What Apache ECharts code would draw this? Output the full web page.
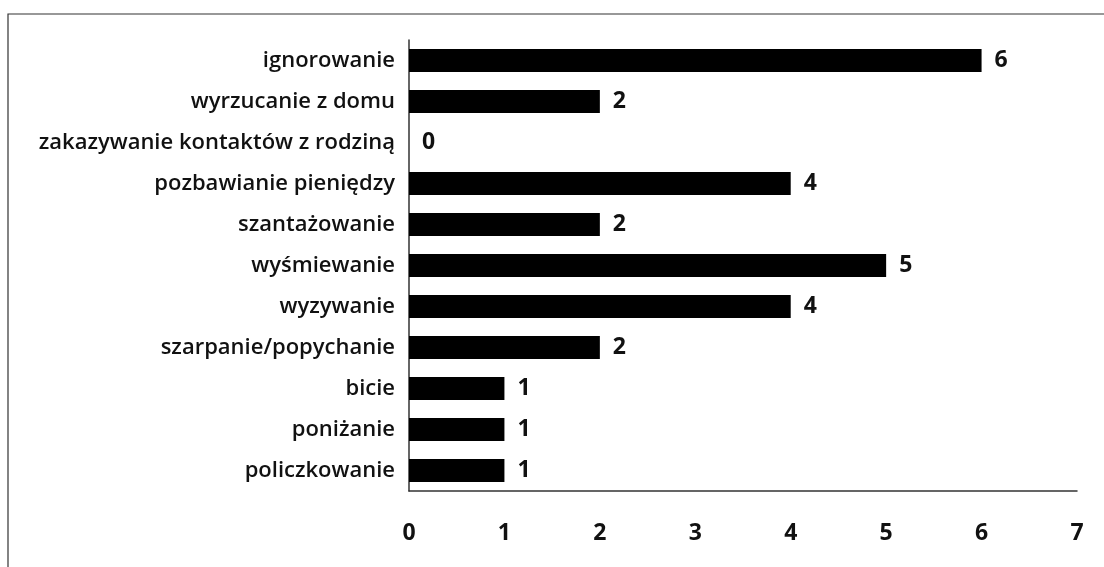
<!DOCTYPE html>
<html>
<head>
<meta charset="utf-8">
<script src="https://cdn.jsdelivr.net/npm/echarts@6/dist/echarts.min.js"></script>
<style>
  html, body { margin: 0; padding: 0; background: #fff; }
  #chart { width: 1104px; height: 567px; }
</style>
</head>
<body>
<div id="chart"></div>
<script>
// kategorie od góry do dołu
const categories = [
  "ignorowanie",
  "wyrzucanie z domu",
  "zakazywanie kontaktów z rodziną",
  "pozbawianie pieniędzy",
  "szantażowanie",
  "wyśmiewanie",
  "wyzywanie",
  "szarpanie/popychanie",
  "bicie",
  "poniżanie",
  "policzkowanie"
]
const values = [6, 2, 0, 4, 2, 5, 4, 2, 1, 1, 1]
const xTicks = [0, 1, 2, 3, 4, 5, 6, 7]

const font = "'Open Sans', 'Noto Sans', sans-serif"

const chart = echarts.init(document.getElementById("chart"))
chart.setOption({
  animation: false,
  backgroundColor: "#fff",
  graphic: [
    {
      type: "rect",
      shape: { x: 8, y: 14, width: 1200, height: 700 },
      style: { fill: "none", stroke: "#333", lineWidth: 1.2 }
    }
  ],
  grid: { left: 409, right: 27, top: 40, bottom: 76 },
  xAxis: {
    type: "value",
    min: 0,
    max: 7,
    interval: 1,
    splitLine: { show: false },
    axisLine: { show: true, lineStyle: { color: "#333", width: 1.5 } },
    axisTick: { show: false },
    axisLabel: {
      margin: 31,
      color: "#111",
      fontSize: 23,
      fontWeight: "bold",
      fontFamily: font,
      formatter: (v) => xTicks.includes(v) ? String(v) : ""
    }
  },
  yAxis: {
    type: "category",
    inverse: true,
    data: categories,
    axisLine: { show: true, lineStyle: { color: "#333", width: 1.5 } },
    axisTick: { show: false },
    axisLabel: {
      margin: 14,
      color: "#111",
      fontSize: 22,
      fontWeight: 600,
      fontFamily: font
    }
  },
  series: [
    {
      type: "bar",
      data: values,
      barWidth: 23,
      itemStyle: { color: "#000" },
      label: {
        show: true,
        position: "right",
        distance: 13,
        color: "#111",
        fontSize: 23,
        fontWeight: "bold",
        fontFamily: font
      }
    }
  ]
})
</script>
</body>
</html>
